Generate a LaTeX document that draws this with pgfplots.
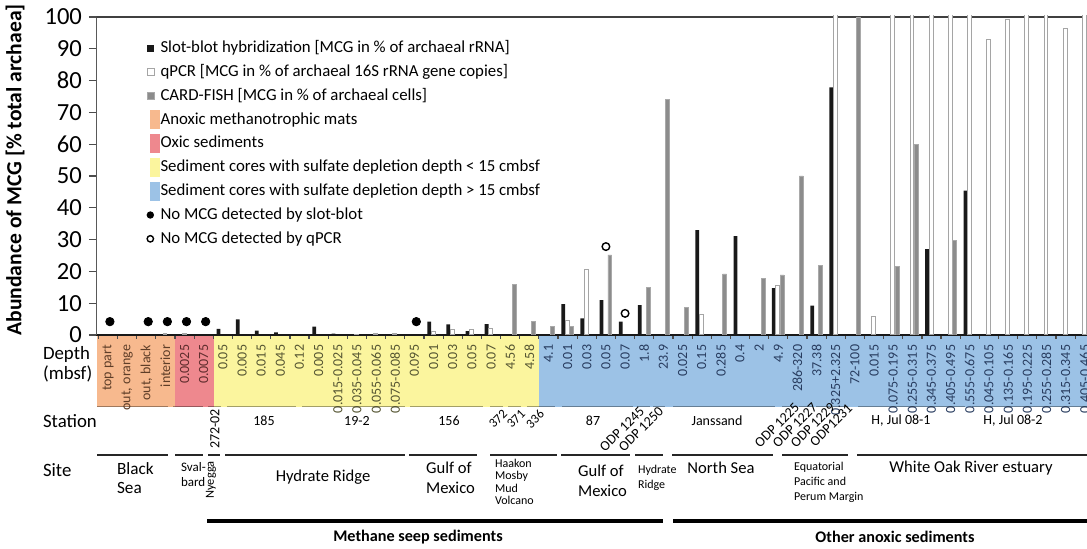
\documentclass[border=0pt]{standalone}
\usepackage{fontspec}
\setmainfont{Carlito}
\usepackage{pgfplots}
\pgfplotsset{compat=1.18}

\definecolor{bOrange}{RGB}{247,185,142}
\definecolor{bRed}{RGB}{238,136,142}
\definecolor{bYellow}{RGB}{251,245,158}
\definecolor{bBlue}{RGB}{156,194,230}
\definecolor{tOrange}{RGB}{95,62,40}
\definecolor{tRed}{RGB}{95,45,45}
\definecolor{tYellow}{RGB}{85,85,50}
\definecolor{tBlue}{RGB}{40,60,95}
\definecolor{cardgray}{RGB}{140,140,140}
\definecolor{qpcredge}{RGB}{165,165,165}

\newcommand{\lo}[1]{\textcolor{tOrange}{#1}}
\newcommand{\lr}[1]{\textcolor{tRed}{#1}}
\newcommand{\ly}[1]{\textcolor{tYellow}{#1}}
\newcommand{\lb}[1]{\textcolor{tBlue}{#1}}

% pixel grid of the reference (1px = 0.5pt), origin at the top left corner
\tikzset{px/.style={x=0.5pt,y=-0.5pt,shift={(-48.25pt,167.5pt)}}}

\begin{document}
\begin{tikzpicture}
% coloured bands behind the depth labels
\begin{scope}[px]
  \fill[bOrange] (96.5,336) rectangle (175,407);
  \fill[bRed] (175,336) rectangle (214,407);
  \fill[bYellow] (214,336) rectangle (539,407);
  \fill[bBlue] (539,336) rectangle (1087,407);
\end{scope}

\begin{axis}[
  at={(0pt,0pt)}, anchor=south west,
  scale only axis, width=495.25pt, height=159.64pt,
  xmin=-0.6, xmax=51.12, ymin=0, ymax=100.4,
  axis x line=bottom, axis y line=left,
  x axis line style={-, line width=1pt, black!90},
  y axis line style={-, line width=0.6pt, black!65},
  tick align=outside,
  major tick length=3.75pt, minor tick length=2pt,
  tick style={black!70, line width=0.6pt},
  ytick={0,10,...,100},
  xtick={0,...,51}, major x tick style=transparent,
  minor xtick={-0.5,0.5,...,50.5},
  xticklabels={\lo{top part},\lo{out, orange},\lo{out, black},\lo{interior},\lr{0.0025},\lr{0.0075},
    \ly{0.05},\ly{0.005},\ly{0.015},\ly{0.045},\ly{0.12},\ly{0.005},\ly{0.015-0.025},\ly{0.035-0.045},
    \ly{0.055-0.065},\ly{0.075-0.085},\ly{0.095},\ly{0.01},\ly{0.03},\ly{0.05},\ly{0.07},\ly{4.56},\ly{4.58},
    \lb{4.1},\lb{0.01},\lb{0.03},\lb{0.05},\lb{0.07},\lb{1.8},\lb{23.9},\lb{0.025},\lb{0.15},\lb{0.285},
    \lb{0.4},\lb{2},\lb{4.9},\lb{286-320},\lb{37.38},\lb{0.325+2.325},\lb{72-100},\lb{0.015},
    \lb{0.075-0.195},\lb{0.255-0.315},\lb{0.345-0.375},\lb{0.405-0.495},\lb{0.555-0.675},
    \lb{0.045-0.105},\lb{0.135-0.165},\lb{0.195-0.225},\lb{0.255-0.285},\lb{0.315-0.345},\lb{0.405-0.465}},
  xticklabel style={rotate=90, anchor=east, font=\fontsize{7}{8}\selectfont, inner sep=1pt},
  yticklabel style={font=\fontsize{12.3}{14}\selectfont},
  /pgf/number format/assume math mode=true,
  ylabel={Abundance of MCG [\% total archaea]},
  every axis y label/.style={at={(axis description cs:-0.0823,0.517)}, rotate=90, anchor=center,
    font=\bfseries\fontsize{10.8}{12}\selectfont},
  legend style={at={(0.05,0.9286)}, anchor=north west, draw=none, fill=none, inner sep=0pt,
    row sep=2.4pt, font=\fontsize{8.4}{10}\selectfont, nodes={inner sep=0.5pt}},
  legend cell align=left,
]
% top frame line (hidden behind bars that run past 100)
\draw[black!75, line width=0.6pt] (axis cs:-0.6,100) -- (axis cs:51.12,100);

% slot-blot hybridization
\addplot[ybar, bar width=1.9pt, bar shift=-2.2pt, fill=black!90, draw=none, forget plot] coordinates {
  (1,0.3) (6,1.9) (7,4.9) (8,1.4) (9,0.8) (10,0.3) (11,2.6) (12,0.4)
  (17,4.2) (18,3.3) (19,1.2) (20,3.4) (24,9.7) (25,5.2) (26,11.0) (27,4.2) (28,9.4)
  (31,33.0) (33,31.1) (35,14.7) (37,9.2) (38,77.9) (43,27.0) (45,45.4)
};
% qPCR
\addplot[ybar, bar width=1.9pt, bar shift=-0.2pt, fill=white, draw=qpcredge, line width=0.5pt, forget plot] coordinates {
  (3,0.5) (4,0.4) (13,0.3) (14,0.5) (15,0.4) (17,1.0) (18,1.6) (19,1.6) (20,2.0)
  (24,4.5) (25,20.6) (31,6.3) (35,15.5) (38,102) (40,5.9) (41,102) (42,102) (43,102)
  (44,102) (45,102) (46,92.8) (47,99.3) (48,102) (49,102) (50,96.3) (51,102)
};
% CARD-FISH
\addplot[ybar, bar width=1.9pt, bar shift=1.9pt, fill=cardgray, draw=cardgray!75!white, line width=0.3pt, forget plot] coordinates {
  (21,16.0) (22,4.4) (23,2.6) (24,2.6) (26,25.2) (28,15.0) (29,74.2) (30,8.7) (32,19.2)
  (34,17.7) (35,18.9) (36,50.0) (37,21.8) (39,100) (41,21.5) (42,60.0) (44,29.7)
};
% no MCG detected by slot-blot
\addplot[only marks, mark=*, mark size=2.1pt, black, forget plot] coordinates {
  (0.1,4.2) (2.1,4.2) (3.1,4.2) (4.1,4.2) (5.1,4.2) (16.1,4.2)
};
% no MCG detected by qPCR
\addplot[only marks, mark=o, mark size=1.9pt, line width=0.7pt, black, forget plot] coordinates {
  (26,27.8) (27,6.8)
};

\addlegendimage{legend image code/.code={\path[draw=none,fill=none] (0pt,-4.75pt) rectangle (6.5pt,4.75pt);
  \fill[black!90, draw=none] (0.4pt,-1.75pt) rectangle (3.9pt,1.75pt);}}
\addlegendentry{Slot-blot hybridization [MCG in \% of archaeal rRNA]}
\addlegendimage{legend image code/.code={\path[draw=none,fill=none] (0pt,-4.75pt) rectangle (6.5pt,4.75pt);
  \filldraw[fill=white, draw=qpcredge, line width=0.5pt] (0.4pt,-1.75pt) rectangle (3.9pt,1.75pt);}}
\addlegendentry{qPCR [MCG in \% of archaeal 16S rRNA gene copies]}
\addlegendimage{legend image code/.code={\path[draw=none,fill=none] (0pt,-4.75pt) rectangle (6.5pt,4.75pt);
  \filldraw[fill=cardgray, draw=cardgray!75!white, line width=0.3pt] (0.4pt,-1.75pt) rectangle (3.9pt,1.75pt);}}
\addlegendentry{CARD-FISH [MCG in \% of archaeal cells]}
\addlegendimage{legend image code/.code={\path[draw=none,fill=none] (0pt,-4.75pt) rectangle (6.5pt,4.75pt);
  \fill[bOrange, draw=none] (1.8pt,-4.75pt) rectangle (6.5pt,4.75pt);}}
\addlegendentry{Anoxic methanotrophic mats}
\addlegendimage{legend image code/.code={\path[draw=none,fill=none] (0pt,-4.75pt) rectangle (6.5pt,4.75pt);
  \fill[bRed, draw=none] (1.8pt,-4.75pt) rectangle (6.5pt,4.75pt);}}
\addlegendentry{Oxic sediments}
\addlegendimage{legend image code/.code={\path[draw=none,fill=none] (0pt,-4.75pt) rectangle (6.5pt,4.75pt);
  \fill[bYellow, draw=none] (1.8pt,-4.75pt) rectangle (6.5pt,4.75pt);}}
\addlegendentry{Sediment cores with sulfate depletion depth < 15 cmbsf}
\addlegendimage{legend image code/.code={\path[draw=none,fill=none] (0pt,-4.75pt) rectangle (6.5pt,4.75pt);
  \fill[bBlue, draw=none] (1.8pt,-4.75pt) rectangle (6.5pt,4.75pt);}}
\addlegendentry{Sediment cores with sulfate depletion depth > 15 cmbsf}
\addlegendimage{legend image code/.code={\path[draw=none,fill=none] (0pt,-4.75pt) rectangle (6.5pt,4.75pt);
  \fill[black, draw=none] (1.9pt,0pt) circle (1.85pt);}}
\addlegendentry{No MCG detected by slot-blot}
\addlegendimage{legend image code/.code={\path[draw=none,fill=none] (0pt,-4.75pt) rectangle (6.5pt,4.75pt);
  \draw[black, fill=none, line width=0.7pt] (1.9pt,0pt) circle (1.6pt);}}
\addlegendentry{No MCG detected by qPCR}
\end{axis}

% station, site and group annotations below the axis
\begin{scope}[px]
  \foreach \a/\b in {97/168,173/203,208/221,227/296,302/405,410/483,490/503,508/521,527/555,
      562/633,637/650,653/665,673/775,782/796,799/813,816/830,833/848,858/965,972/1087}
    \draw[black, opacity=0.35, line width=0.9pt] (\a,406.5) -- (\b,406.5);

  \begin{scope}[every node/.style={anchor=west, font=\fontsize{9.4}{11}\selectfont}]
    \node at (36,354) {Depth};
    \node at (36,374) {(mbsf)};
    \node at (36,421) {Station};
    \node at (36,470) {Site};
  \end{scope}

  \begin{scope}[every node/.style={font=\fontsize{7}{8}\selectfont, inner sep=0.5pt}]
    \node[rotate=90] at (215,429) {272-02};
    \node at (264,421) {185};
    \node at (357,421) {19-2};
    \node at (449,421) {156};
    \node[rotate=45, font=\fontsize{6.5}{7}\selectfont] at (498,419) {372};
    \node[rotate=45, font=\fontsize{6.5}{7}\selectfont] at (516,419) {371};
    \node[rotate=45, font=\fontsize{6.5}{7}\selectfont] at (535,419) {336};
    \node at (593,421) {87};
    \node[rotate=45] at (622,429) {ODP 1245};
    \node[rotate=45] at (641,429) {ODP 1250};
    \node at (717,421) {Janssand};
    \node[rotate=45] at (777,425) {ODP 1225};
    \node[rotate=45] at (795,425) {ODP 1227};
    \node[rotate=45] at (813,425) {ODP 1229};
    \node[rotate=45] at (831,425) {ODP1231};
    \node at (901,421) {H, Jul 08-1};
    \node at (1013,421) {H, Jul 08-2};
  \end{scope}

  \foreach \a/\b in {97/168,175/203,208/220,225/405,409/477,490/557,561/630,635/663,672/773,782/848,857/1087}
    \draw[black!85, line width=1pt] (\a,455) -- (\b,455);

  \node[anchor=west, align=left, font=\fontsize{8.6}{9.5}\selectfont] at (110,478) {Black\\Sea};
  \node[anchor=west, align=left, font=\fontsize{6.5}{7.5}\selectfont] at (174,475) {Sval-\\bard};
  \node[rotate=90, font=\fontsize{6.2}{7}\selectfont] at (211,480) {Nyegga};
  \node[font=\fontsize{8.3}{10}\selectfont] at (323,477) {Hydrate Ridge};
  \node[anchor=west, align=left, font=\fontsize{8.3}{10}\selectfont] at (419,478) {Gulf of\\Mexico};
  \node[anchor=west, align=left, font=\fontsize{6}{6.2}\selectfont] at (488,482) {Haakon\\Mosby\\Mud\\Volcano};
  \node[anchor=west, align=left, font=\fontsize{8.3}{10}\selectfont] at (571,481) {Gulf of\\Mexico};
  \node[anchor=west, align=left, font=\fontsize{6}{7.5}\selectfont] at (631,478) {Hydrate\\Ridge};
  \node[font=\fontsize{8.3}{10}\selectfont] at (721,468) {North Sea};
  \node[anchor=west, align=left, font=\fontsize{6}{7.5}\selectfont] at (787,482) {Equatorial\\Pacific and\\Perum Margin};
  \node[font=\fontsize{8.3}{10}\selectfont] at (971,468) {White Oak River estuary};

  \draw[black, line width=1.6pt] (207,521) -- (663,521);
  \draw[black, line width=1.6pt] (673,521) -- (1087,521);
  \node[font=\bfseries\fontsize{8.1}{10}\selectfont] at (418,537) {Methane seep sediments};
  \node[font=\bfseries\fontsize{8.1}{10}\selectfont] at (895,537) {Other anoxic sediments};
\end{scope}

\pgfresetboundingbox
\path[px, use as bounding box] (0,0) rectangle (1087,549);
\end{tikzpicture}
\end{document}
